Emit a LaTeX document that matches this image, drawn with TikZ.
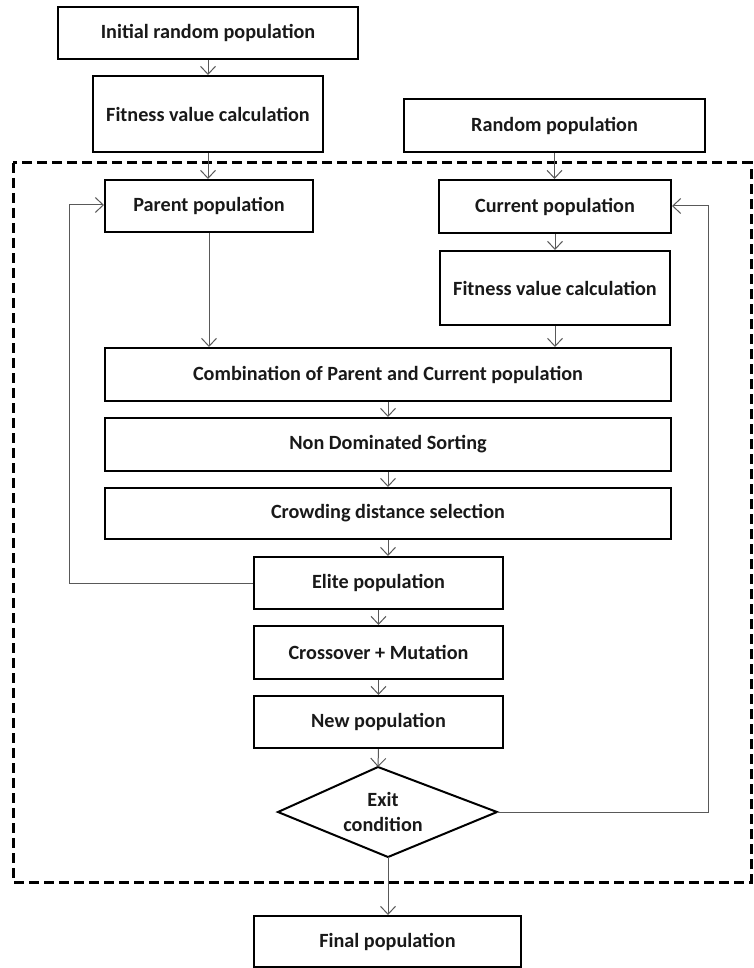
\documentclass[tikz,border=0pt]{standalone}
\usepackage{fontspec}
\setmainfont{Carlito}
\usetikzlibrary{arrows.meta}
\begin{document}
\begin{tikzpicture}[x=1pt,y=-1pt,
  box/.style={draw=black,line width=2pt,rectangle,inner sep=0pt,
    font=\fontsize{20.2}{24}\selectfont\bfseries,text=black!90},
  conn/.style={draw=black!65,line width=1pt,
    -{Straight Barb[length=8pt,width=15pt,line width=1pt]}},
  plain/.style={draw=black!65,line width=1pt},
  frame/.style={draw=black,line width=3pt,dash pattern=on 10pt off 5pt}]
\useasboundingbox (0,0) rectangle (753,968);
\fill[white] (0,0) rectangle (753,968);

% dashed loop frame
\draw[frame] (13,163) rectangle (751,882);

% nodes
\node[box,minimum width=300pt,minimum height=52pt] (init) at (208,33) {Initial random population};
\node[box,minimum width=230pt,minimum height=76pt] (fitA) at (208,114) {Fitness value calculation};
\node[box,minimum width=301pt,minimum height=53pt] (rand) at (554.5,125.5) {Random population};
\node[box,minimum width=208pt,minimum height=52pt] (parent) at (209,206) {Parent population};
\node[box,minimum width=232pt,minimum height=53pt] (current) at (555,206.5) {Current population};
\node[box,minimum width=230pt,minimum height=74pt] (fitB) at (555,288) {Fitness value calculation};
\node[box,minimum width=566pt,minimum height=53pt] (comb) at (388,374.5) {Combination of Parent and Current population};
\node[box,minimum width=566pt,minimum height=53pt] (nds) at (388,444.5) {Non Dominated Sorting};
\node[box,minimum width=566pt,minimum height=51pt] (crowd) at (388,513.5) {Crowding distance selection};
\node[box,minimum width=249pt,minimum height=52pt] (elite) at (378.5,583) {Elite population};
\node[box,minimum width=249pt,minimum height=53pt] (cross) at (378.5,652.5) {Crossover + Mutation};
\node[box,minimum width=249pt,minimum height=52pt] (newp) at (378.5,722) {New population};
\node[box,minimum width=267pt,minimum height=51pt] (final) at (387.5,941.5) {Final population};

% decision diamond
\coordinate (dT) at (378,767);
\coordinate (dR) at (497,812);
\coordinate (dB) at (388,857);
\coordinate (dL) at (278,812);
\draw[line width=2pt,line join=miter] (dT) -- (dR) -- (dB) -- (dL) -- cycle;
\node[font=\fontsize{20.2}{25}\selectfont\bfseries,text=black!90,align=center] (exit) at (383,812) {Exit\\condition};

% connectors
\draw[conn] (init.south) -- (fitA.north);
\draw[conn] (fitA.south) -- (fitA.south |- parent.north);
\draw[conn] (rand.south) -- (rand.south |- current.north);
\draw[conn] (current.south) -- (fitB.north);
\draw[conn] (parent.south) -- (parent.south |- comb.north);
\draw[conn] (fitB.south) -- (fitB.south |- comb.north);
\draw[conn] (comb.south) -- (nds.north);
\draw[conn] (nds.south) -- (crowd.north);
\draw[conn] (crowd.south) -- (crowd.south |- elite.north);
\draw[conn] (elite.south) -- (cross.north);
\draw[conn] (cross.south) -- (newp.north);
\draw[conn] (newp.south) -- (dT);
\draw[conn] (dB) -- (dB |- final.north);

% feedback loops
\coordinate (lp) at (69,583);
\coordinate (rp) at (708,812);
\draw[conn] (elite.west) -- (lp) |- ([yshift=1pt]parent.west);
\draw[conn] (dR) -- (rp) |- ([yshift=0.5pt]current.east);
\end{tikzpicture}
\end{document}
